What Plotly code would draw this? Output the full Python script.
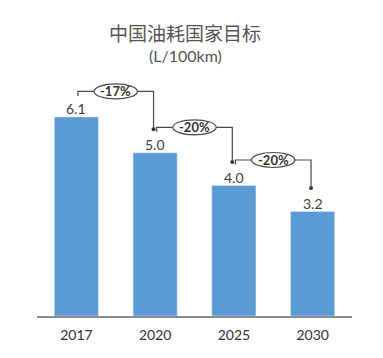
import plotly.graph_objects as go

years = ["2017", "2020", "2025", "2030"]
values = [6.1, 5.0, 4.0, 3.2]
changes = ["-17%", "-20%", "-20%"]

title_text = "中国油耗国家目标"
subtitle_text = "(L/100km)"

bar_color = "#5B9BD5"
dark = "#404040"
line_col = "#4a4a4a"

W, H = 375, 350          # page body has an 8px margin
ML, MR, MT, MB = 29, 31, 73, 42

xs = list(range(len(years)))

fig = go.Figure()
fig.add_trace(go.Bar(
    x=xs, y=values, marker_color=bar_color, width=0.56,
    hoverinfo="skip", showlegend=False,
))

for i, v in enumerate(values):
    fig.add_annotation(x=i, y=v, xref="x", yref="y", text=f"{v:.1f}",
                       showarrow=False, yanchor="middle", yshift=8,
                       font=dict(family="Lato", size=14, color=dark))

shapes = []
dots_x, dots_y = [], []
for i, lab in enumerate(changes):
    h = values[i] + 0.78
    tick_bot = h - 0.14
    end_y = values[i + 1] + 0.72
    lx = i + 0.02
    rx = i + 1 - 0.02
    cx = i + 0.5
    shapes.append(dict(type="path", xref="x", yref="y",
                       path=f"M {lx} {tick_bot} L {lx} {h} L {rx} {h} L {rx} {end_y}",
                       line=dict(color=line_col, width=1.2), layer="above"))
    shapes.append(dict(type="circle", xref="x", yref="y",
                       x0=cx - 0.275, x1=cx + 0.275, y0=h - 0.23, y1=h + 0.23,
                       line=dict(color=line_col, width=1.2), fillcolor="white", layer="above"))
    fig.add_annotation(x=cx, y=h, xref="x", yref="y", text=f"<b>{lab}</b>",
                       showarrow=False, font=dict(family="Lato", size=13, color="#333333"))
    dots_x.append(rx)
    dots_y.append(end_y)

fig.add_trace(go.Scatter(x=dots_x, y=dots_y, mode="markers",
                         marker=dict(size=4, color="#333333"), cliponaxis=False,
                         hoverinfo="skip", showlegend=False))

plot_h = H - MT - MB
plot_w = W - ML - MR
def py_to_paper(py):
    return (H - MB - (py - 8)) / plot_h
def px_to_paper(px):
    return ((px - 8) - ML) / plot_w

fig.add_annotation(x=px_to_paper(185), y=py_to_paper(32), xref="paper", yref="paper",
                   yanchor="middle", text=title_text, showarrow=False,
                   font=dict(family="Noto Sans CJK SC", size=19, color="#555555"))
fig.add_annotation(x=px_to_paper(185), y=py_to_paper(55), xref="paper", yref="paper",
                   yanchor="middle", text=subtitle_text, showarrow=False,
                   font=dict(family="Lato", size=16, color="#555555"))

fig.update_layout(
    width=W, height=H,
    margin=dict(l=ML, r=MR, t=MT, b=MB),
    paper_bgcolor="white", plot_bgcolor="white",
    shapes=shapes,
    xaxis=dict(tickvals=xs, ticktext=years, range=[-0.5, 3.5],
               showline=True, linecolor="#8c8c8c", linewidth=1.5,
               showgrid=False, zeroline=False, ticks="", ticklabelstandoff=5,
               tickfont=dict(family="Lato", size=14, color="#333333")),
    yaxis=dict(range=[0, 7.2], visible=False),
    showlegend=False,
)

fig.write_html("out.html")
